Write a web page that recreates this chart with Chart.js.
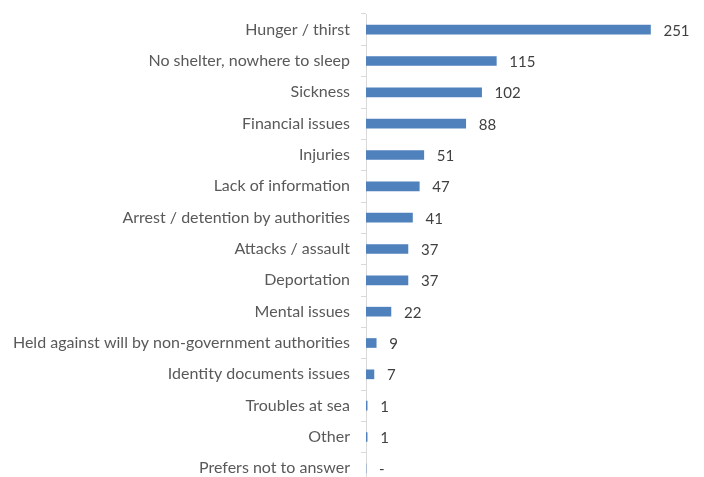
<!DOCTYPE html>
<html>
<head>
<meta charset="utf-8">
<script src="https://cdn.jsdelivr.net/npm/chart.js@4"></script>
<style>
html,body{margin:0;padding:0;background:#fff;overflow:hidden;}
#wrap{width:704px;height:477px;overflow:hidden;position:relative;}
#c{position:absolute;left:0;top:0;}
</style>
</head>
<body>
<div id="wrap"><canvas id="c" width="706" height="490"></canvas></div>
<script>
const categories = [
  "Hunger / thirst",
  "No shelter, nowhere to sleep",
  "Sickness",
  "Financial issues",
  "Injuries",
  "Lack of information",
  "Arrest / detention by authorities",
  "Attacks / assault",
  "Deportation",
  "Mental issues",
  "Held against will by non-government authorities",
  "Identity documents issues",
  "Troubles at sea",
  "Other",
  "Prefers not to answer"
];
const values = [251, 115, 102, 88, 51, 47, 41, 37, 37, 22, 9, 7, 1, 1, 0];
const xMin = 0;
const xMax = 300;

const FONT = "Lato, 'Open Sans', sans-serif";

const valueLabels = {
  id: 'valueLabels',
  afterDatasetsDraw(chart) {
    const ctx = chart.ctx;
    const meta = chart.getDatasetMeta(0);
    ctx.save();
    ctx.font = "15px " + FONT;
    ctx.fillStyle = '#404040';
    ctx.textBaseline = 'middle';
    ctx.textAlign = 'left';
    meta.data.forEach((bar, i) => {
      const v = values[i];
      const txt = v === 0 ? '-' : String(v);
      ctx.fillText(txt, bar.x + 13, bar.y + 1);
    });
    ctx.restore();
  }
};

new Chart(document.getElementById('c'), {
  type: 'bar',
  data: {
    labels: categories,
    datasets: [{
      data: values,
      backgroundColor: '#4f81bd',
      borderWidth: 0,
      barThickness: 9
    }]
  },
  options: {
    indexAxis: 'y',
    responsive: false,
    animation: false,
    layout: { padding: { left: 0, right: 0, top: 14, bottom: 6 } },
    plugins: { legend: { display: false }, tooltip: { enabled: false } },
    scales: {
      x: {
        display: false,
        min: xMin,
        max: xMax
      },
      y: {
        afterFit(scale) {
          scale.width = 366;
          scale.paddingTop = 0;
          scale.paddingBottom = 0;
        },
        border: { display: true, color: '#d9d9d9', width: 1 },
        grid: {
          offset: true,
          drawOnChartArea: false,
          drawTicks: true,
          tickLength: 5,
          color: '#d9d9d9'
        },
        ticks: {
          padding: 11,
          color: '#595959',
          font: { family: FONT, size: 16 },
          autoSkip: false
        }
      }
    }
  },
  plugins: [valueLabels]
});
</script>
</body>
</html>
